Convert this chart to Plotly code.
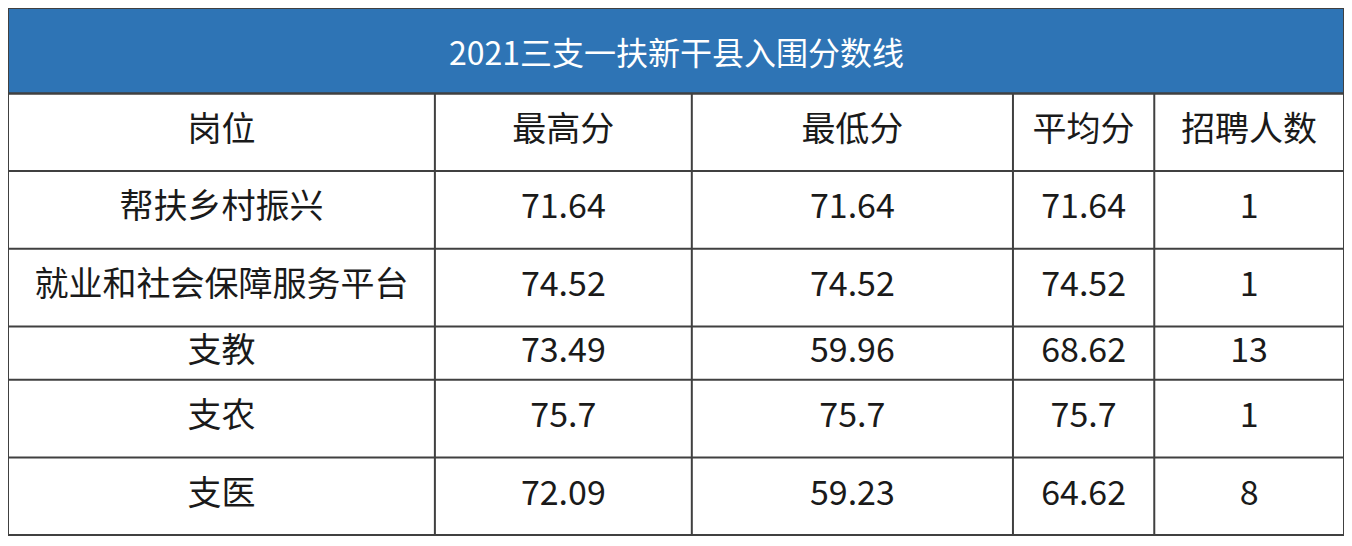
import plotly.graph_objects as go

TITLE = "2021三支一扶新干县入围分数线"
HEADERS = ["岗位", "最高分", "最低分", "平均分", "招聘人数"]
POSTS = ["帮扶乡村振兴", "就业和社会保障服务平台", "支教", "支农", "支医"]
MAX_SCORE = ["71.64", "74.52", "73.49", "75.7", "72.09"]
MIN_SCORE = ["71.64", "74.52", "59.96", "75.7", "59.23"]
AVG_SCORE = ["71.64", "74.52", "68.62", "75.7", "64.62"]
HEADCOUNT = ["1", "1", "13", "1", "8"]

W, H = 1352, 546
FONT = "Noto Sans CJK SC"
# grid in pixel units
COL_EDGES = [0, 432, 692, 1017, 1160, 1352]
ROW_EDGES = [88, 168, 248, 328, 383, 463, 543]
LINE = "#404040"

columns = [POSTS, MAX_SCORE, MIN_SCORE, AVG_SCORE, HEADCOUNT]
rows = [HEADERS] + [list(r) for r in zip(*columns)]

fig = go.Figure()
for i, row in enumerate(rows):
    yc = (ROW_EDGES[i] + ROW_EDGES[i + 1]) / 2
    xs = [(COL_EDGES[j] + COL_EDGES[j + 1]) / 2 for j in range(len(row))]
    fig.add_trace(go.Scatter(
        x=xs, y=[yc] * len(row), text=row, mode="text",
        textfont=dict(family=FONT, size=34, color="#1a1a1a"),
        hoverinfo="skip", showlegend=False,
    ))

# title bar
fig.add_shape(type="rect", x0=0, x1=W, y0=0, y1=ROW_EDGES[0],
              fillcolor="#2E74B5", line=dict(color=LINE, width=2), layer="below")
fig.add_annotation(text=TITLE, x=W / 2, y=ROW_EDGES[0] / 2, showarrow=False,
                   font=dict(family=FONT, size=32, color="white"))

# grid
for y in ROW_EDGES:
    fig.add_shape(type="line", x0=0, x1=W, y0=y, y1=y, line=dict(color=LINE, width=2))
for x in COL_EDGES:
    fig.add_shape(type="line", x0=x, x1=x, y0=ROW_EDGES[0], y1=ROW_EDGES[-1],
                  line=dict(color=LINE, width=2))

fig.update_xaxes(range=[0, W], visible=False)
fig.update_yaxes(range=[H, 0], visible=False)
# page body has an 8px margin, so shrink the figure to fit the window
fig.update_layout(width=W - 16, height=H - 16, margin=dict(l=0, r=0, t=0, b=0),
                  paper_bgcolor="white", plot_bgcolor="white")

fig.write_html("out.html")
